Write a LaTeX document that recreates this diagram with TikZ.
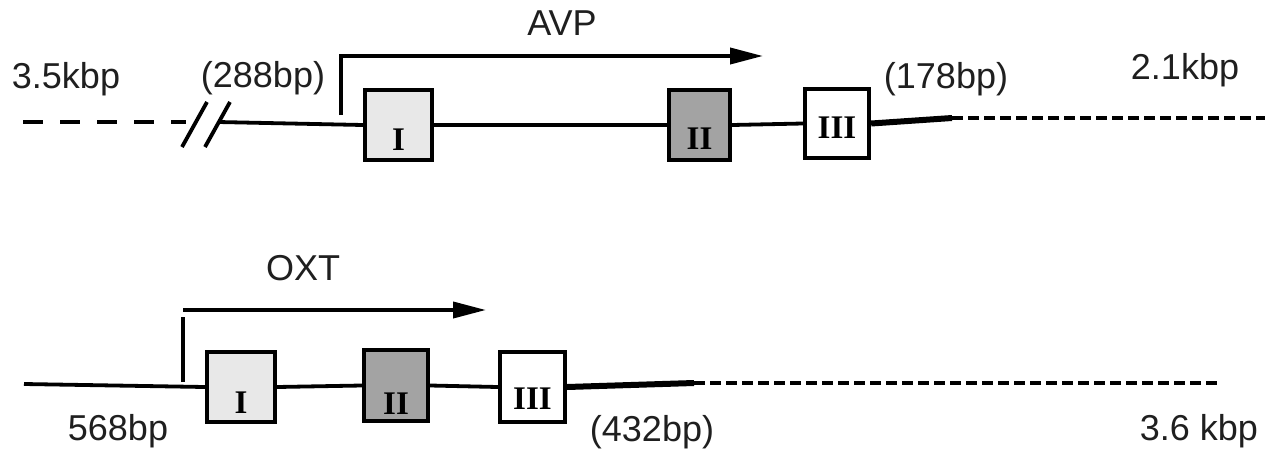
\documentclass[tikz,border=0pt]{standalone}
\usepackage{fontspec}
\setmainfont{Liberation Sans}
\newfontfamily\exonfont{Liberation Serif}
\usetikzlibrary{arrows.meta}

\begin{document}
\begin{tikzpicture}[x=1pt,y=-1pt,
  exon/.style={draw=black, line width=4.3pt, minimum width=#1, minimum height=70pt, inner sep=0pt},
  exonA/.style={exon=#1, fill=black!9},
  exonB/.style={exon=#1, fill=black!36},
  exonC/.style={exon=#1, fill=white},
  numeral/.style={inner sep=0pt, font=\exonfont\bfseries\fontsize{33}{33}\selectfont},
  lbl/.style={inner sep=0pt, font=\fontsize{36}{40}\selectfont, text=black!88},
  gene/.style={line width=3.8pt},
  tail/.style={line width=6pt},
  farline/.style={line width=3.8pt, dash pattern=on 11pt off 5pt},
  gapline/.style={line width=3.8pt, dash pattern=on 20pt off 17pt},
  promoter/.style={line width=3.8pt, -{Triangle[length=33pt,width=16pt]}},
]
\useasboundingbox (0,0) rectangle (1279,453);

% ---------------- AVP gene ----------------
\node[exonA=67pt] (aI)   at (398.5,125) {};
\node[exonB=61pt] (aII)  at (699.5,125) {};
\node[exonC=64pt, minimum height=69pt] (aIII) at (837,123.5) {};
\node[numeral] (aIn)   at (398.5,140) {I};
\node[numeral] (aIIn)  at (699.5,139) {II};
\node[numeral] (aIIIn) at (837,128) {III};

\coordinate (aL)  at (23,122);
\coordinate (aG)  at (186,122);
\coordinate (aS)  at (218,122);
\coordinate (aE)  at (952,118);
\coordinate (aR)  at (1265,118);
\coordinate (aP0) at (341,115);
\coordinate (aP1) at (341,56);
\coordinate (aP2) at (763,56);

\draw[gapline] (aL) -- (aG);
\draw[gene] (182,147) -- (207,102);
\draw[gene] (205,147) -- (230,102);
\draw[gene] (aS) -- (aI.west);
\draw[gene] (aI.east) -- (aII.west);
\draw[gene] (aII.east) -- (aIII.west);
\draw[tail] (aIII.east) -- (aE);
\draw[farline] (aE) -- (aR);
\draw[gene] (aP0) -- (aP1);
\draw[promoter] (339.1,56) -- (aP2);

\node[lbl] (t35)  at (66,79)   {3.5kbp};
\node[lbl] (t288) at (263,78)  {(288bp)};
\node[lbl] (tavp) at (562,23)  {AVP};
\node[lbl] (t178) at (946,79)  {(178bp)};
\node[lbl] (t21)  at (1185,70) {2.1kbp};

% ---------------- OXT gene ----------------
\node[exonA=68pt] (oI)   at (241,387) {};
\node[exonB=64pt, minimum height=71pt] (oII) at (396,385.5) {};
\node[exonC=65pt] (oIII) at (532.5,387) {};
\node[numeral] (oIn)   at (241,403) {I};
\node[numeral] (oIIn)  at (396,404) {II};
\node[numeral] (oIIIn) at (532.5,399) {III};

\coordinate (oL)  at (24,384);
\coordinate (oE)  at (694,383);
\coordinate (oR)  at (1219,383);
\coordinate (oP0) at (183,382);
\coordinate (oP1) at (183,317);
\coordinate (oP2) at (486,310);

\draw[gene] (oL) -- (oI.west);
\draw[gene] (oI.east) -- (oII.west);
\draw[gene] (oII.east) -- (oIII.west);
\draw[tail] (oIII.east) -- (oE);
\draw[farline] (oE) -- (oR);
\draw[gene] (oP0) -- (oP1);
\draw[promoter] (183,310) -- (oP2);

\node[lbl] (t568) at (118,431)  {568bp};
\node[lbl] (t432) at (652,432)  {(432bp)};
\node[lbl] (toxt) at (303,268)  {OXT};
\node[lbl] (t36)  at (1199,431) {3.6 kbp};
\end{tikzpicture}
\end{document}
